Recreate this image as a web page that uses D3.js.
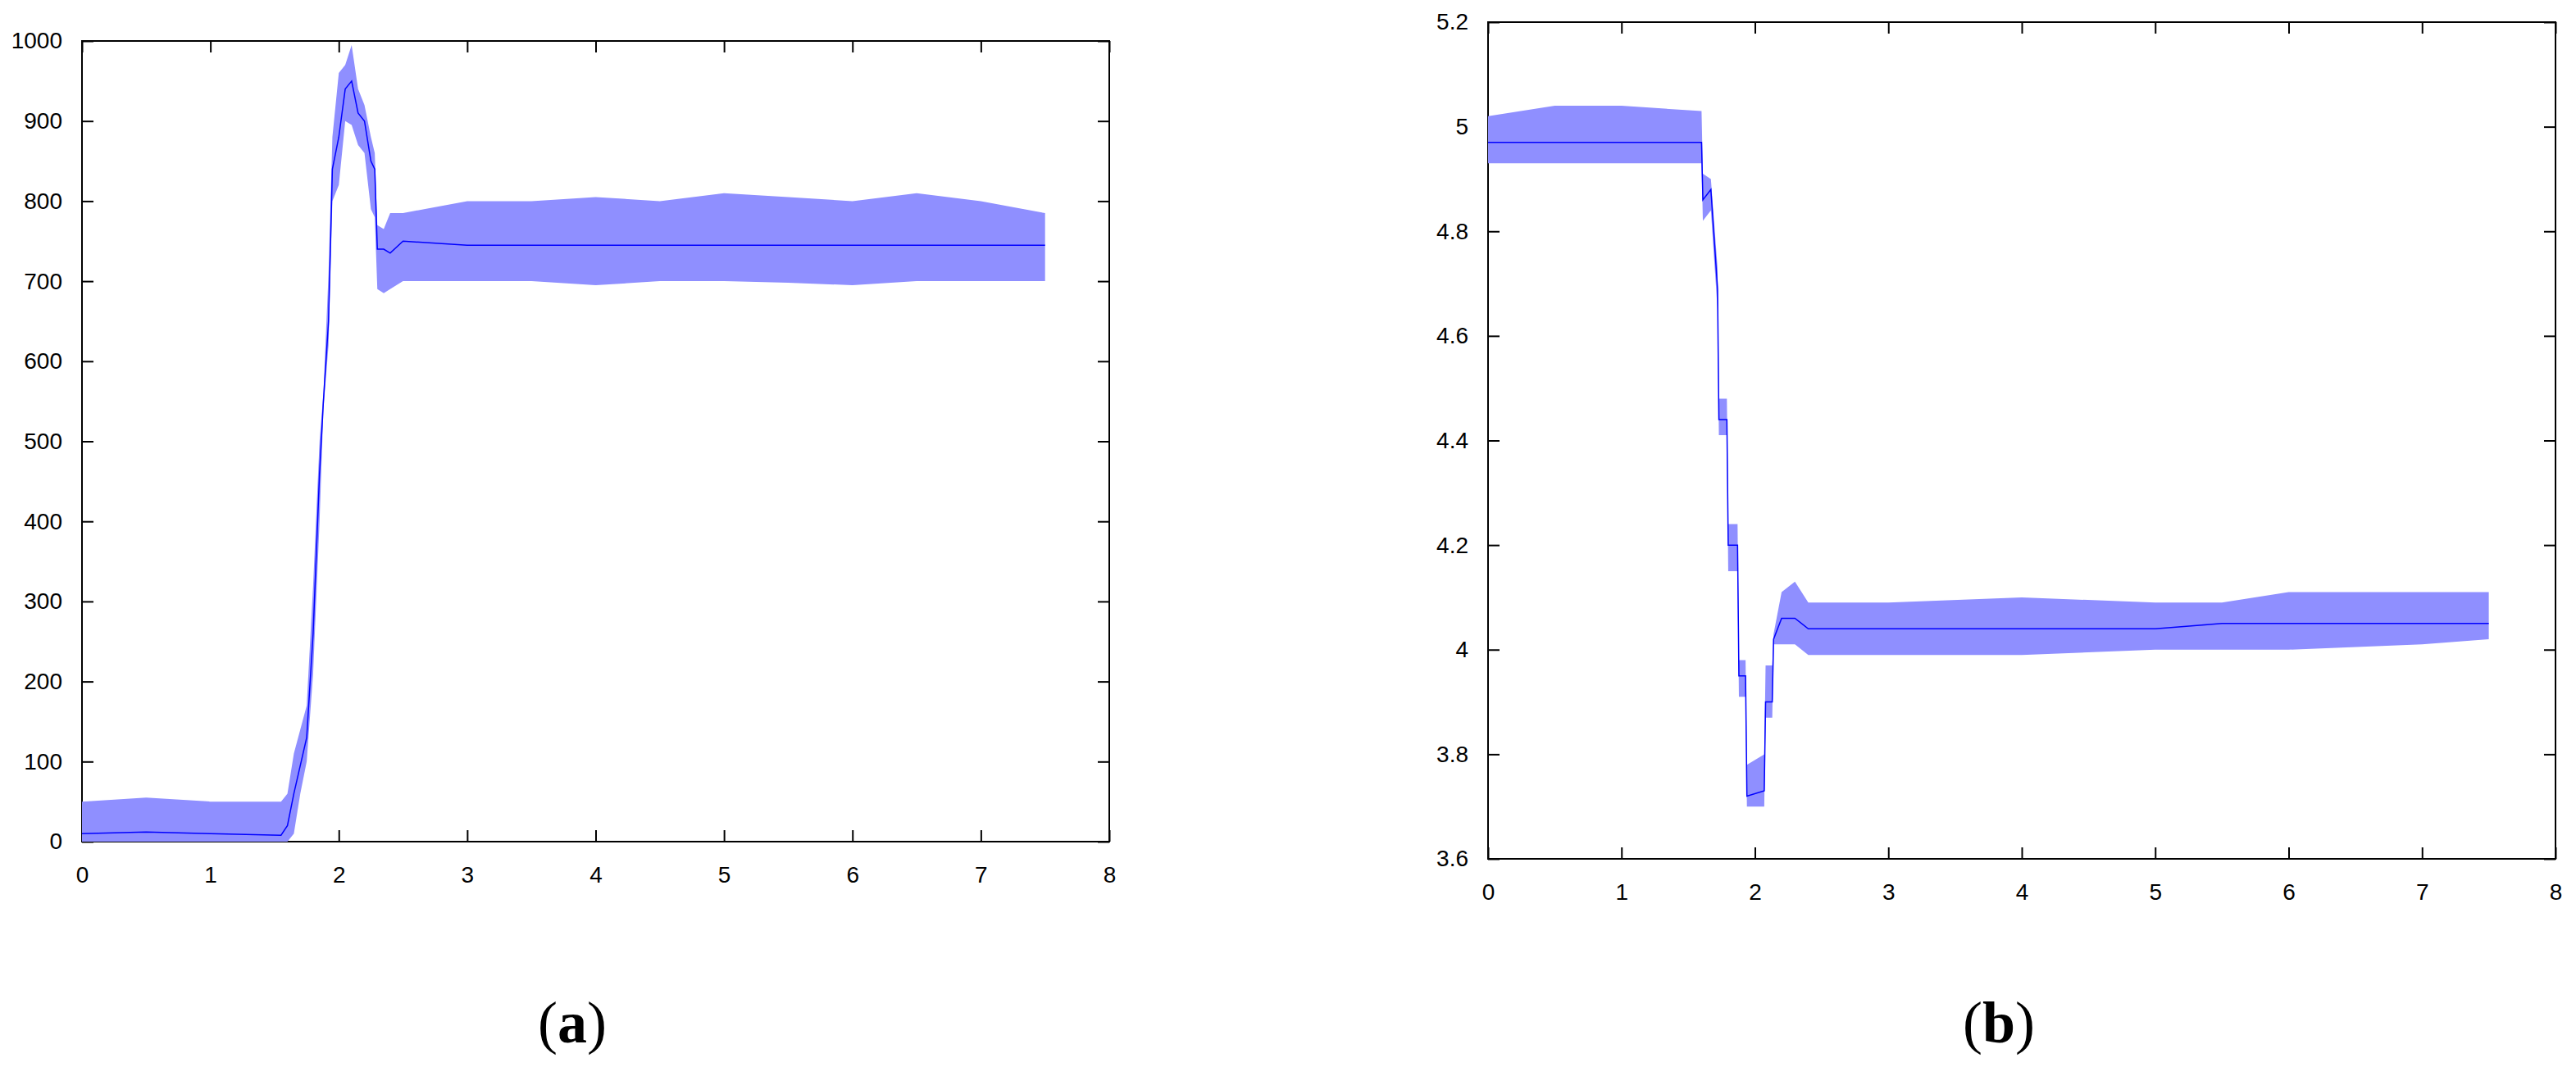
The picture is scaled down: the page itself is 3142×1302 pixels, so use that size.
<!DOCTYPE html>
<html lang="en">
  <head>
    <meta charset="utf-8" />
    <title>Two signals</title>
    <script src="https://d3js.org/d3.v7.min.js"></script>
    <style>
      body { margin: 0; background: #fff; }
      .axis text { font-family: "Liberation Sans", Arial, sans-serif; font-size: 28px; fill: #000; }
      .axis path, .axis line { stroke: #000; stroke-width: 2px; }
      .caption { font-family: "Liberation Serif", "Times New Roman", serif; font-size: 72px; }
    </style>
  </head>
  <body>
    <svg id="chart" width="3142" height="1302"></svg>
    <script>
      // (a) time, lower envelope, upper envelope, centre trace
      const tA =    [0,  0.5, 1.0, 1.55, 1.6, 1.65, 1.7, 1.75, 1.8, 1.85, 1.88, 1.92, 1.95, 2.0, 2.05, 2.1, 2.15, 2.2, 2.25, 2.28, 2.3, 2.35, 2.4, 2.5, 3.0, 3.5, 4.0, 4.5, 5.0, 5.5, 6.0, 6.5, 7.0, 7.5];
      const lowA =  [0,  0,   0,   0,    0,   10,   60,   100,  210, 400,  540,  620,  800,  820, 900,  895, 870,  860, 790,  780,  690, 685,  690, 700, 700, 700, 695, 700, 700, 698, 695, 700, 700, 700];
      const highA = [50, 55,  50,  50,   60,  110,  140,  170,  320, 500,  560,  710,  880,  960, 970,  995, 940,  920, 880,  860,  770, 765,  785, 785, 800, 800, 805, 800, 810, 805, 800, 810, 800, 785];
      const midA =  [10, 12,  10,  8,    20,  60,   95,   130,  260, 460,  550,  650,  840,  880, 940,  950, 910,  900, 850,  840,  740, 740,  735, 750, 745, 745, 745, 745, 745, 745, 745, 745, 745, 745];

      // (b)
      const tB =    [0,    0.5,  1.0,  1.6,  1.61, 1.67, 1.72, 1.73, 1.79, 1.8,  1.87, 1.88, 1.93, 1.94, 2.07, 2.08, 2.13, 2.14, 2.2,  2.3,  2.4,  3.0,  4.0,  5.0,  5.5,  6.0,  7.0,  7.5];
      const lowB =  [4.93, 4.93, 4.93, 4.93, 4.82, 4.84, 4.65, 4.41, 4.41, 4.15, 4.15, 3.91, 3.91, 3.70, 3.70, 3.87, 3.87, 4.01, 4.01, 4.01, 3.99, 3.99, 3.99, 4.00, 4.00, 4.00, 4.01, 4.02];
      const highB = [5.02, 5.04, 5.04, 5.03, 4.91, 4.90, 4.73, 4.48, 4.48, 4.24, 4.24, 3.98, 3.98, 3.78, 3.80, 3.97, 3.97, 4.03, 4.11, 4.13, 4.09, 4.09, 4.10, 4.09, 4.09, 4.11, 4.11, 4.11];
      const midB =  [4.97, 4.97, 4.97, 4.97, 4.86, 4.88, 4.69, 4.44, 4.44, 4.20, 4.20, 3.95, 3.95, 3.72, 3.73, 3.90, 3.90, 4.02, 4.06, 4.06, 4.04, 4.04, 4.04, 4.04, 4.05, 4.05, 4.05, 4.05];

      const xTicks = [0, 1, 2, 3, 4, 5, 6, 7, 8];
      const yTicksA = [0, 100, 200, 300, 400, 500, 600, 700, 800, 900, 1000];
      const yTicksB = [3.6, 3.8, 4, 4.2, 4.4, 4.6, 4.8, 5, 5.2];

      const svg = d3.select("#chart");

      function drawPanel(box, t, low, high, mid, yDomain, yTicks, caption) {
        const g = svg.append("g");
        const x = d3.scaleLinear().domain([0, 8]).range([box.left, box.right]);
        const y = d3.scaleLinear().domain(yDomain).range([box.bottom, box.top]);
        const tk = 14;
        const fmt = (d) => d3.format("~g")(d);

        g.append("rect")
          .attr("x", box.left).attr("y", box.top)
          .attr("width", box.right - box.left).attr("height", box.bottom - box.top)
          .attr("fill", "none").attr("stroke", "#000").attr("stroke-width", 2);

        g.append("g").attr("class", "axis")
          .attr("transform", `translate(0,${box.bottom})`)
          .call(d3.axisBottom(x).tickValues(xTicks).tickFormat(fmt).tickSizeInner(-tk).tickSizeOuter(0).tickPadding(tk + 16));
        g.append("g").attr("class", "axis")
          .attr("transform", `translate(0,${box.top})`)
          .call(d3.axisTop(x).tickValues(xTicks).tickFormat("").tickSizeInner(-tk).tickSizeOuter(0));
        g.append("g").attr("class", "axis")
          .attr("transform", `translate(${box.left},0)`)
          .call(d3.axisLeft(y).tickValues(yTicks).tickFormat(fmt).tickSizeInner(-tk).tickSizeOuter(0).tickPadding(tk + 10));
        g.append("g").attr("class", "axis")
          .attr("transform", `translate(${box.right},0)`)
          .call(d3.axisRight(y).tickValues(yTicks).tickFormat("").tickSizeInner(-tk).tickSizeOuter(0));
        g.selectAll(".axis .domain").remove();

        const idx = d3.range(t.length);
        g.append("path")
          .attr("fill", "#8f8fff")
          .attr("d", d3.area().x((i) => x(t[i])).y0((i) => y(low[i])).y1((i) => y(high[i]))(idx));
        g.append("path")
          .attr("fill", "none").attr("stroke", "#0000ff").attr("stroke-width", 1.5)
          .attr("d", d3.line().x((i) => x(t[i])).y((i) => y(mid[i]))(idx));

        const cap = g.append("text").attr("class", "caption")
          .attr("x", box.cx).attr("y", 1272).attr("text-anchor", "middle");
        cap.append("tspan").text("(");
        cap.append("tspan").attr("font-weight", "bold").text(caption);
        cap.append("tspan").text(")");
      }

      drawPanel({ left: 100, right: 1353, top: 50, bottom: 1027, cx: 698 }, tA, lowA, highA, midA, [0, 1000], yTicksA, "a");
      drawPanel({ left: 1815, right: 3117, top: 27, bottom: 1048, cx: 2438 }, tB, lowB, highB, midB, [3.6, 5.2], yTicksB, "b");
    </script>
  </body>
</html>
